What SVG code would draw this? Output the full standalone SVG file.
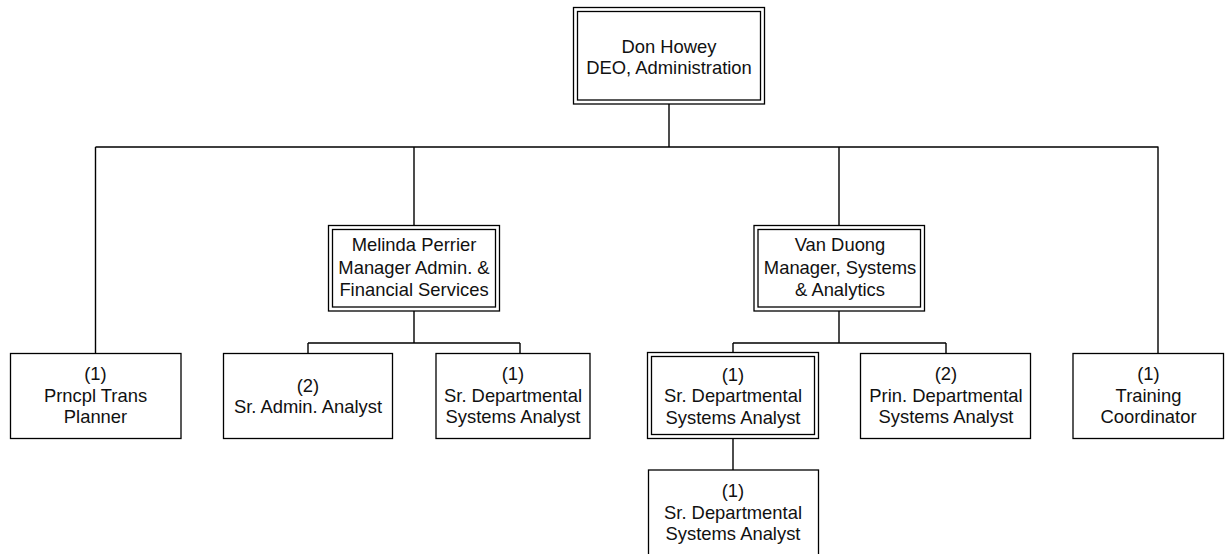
<svg xmlns="http://www.w3.org/2000/svg" width="1225" height="554" viewBox="0 0 1225 554">
<style>
.b{fill:#fff;stroke:#000;stroke-width:1.3}
.c{fill:none;stroke:#000;stroke-width:1.4}
text{font-family:"Liberation Sans",Arial,sans-serif;font-size:18.4px;fill:#111;text-anchor:middle}
</style>
<rect width="1225" height="554" fill="#fff"/>
<g id="connectors">
<path class="c" d="M669,104 V147 M95.5,147 H1158.5 M95.5,147 V353.5 M414,147 V225.5 M839,147 V225.5 M1158,147 V353.5"/>
<path class="c" d="M414,311 V343 M308,343 H520 M308,343 V353.5 M520,343 V353.5"/>
<path class="c" d="M839,311 V343 M733,343 H946 M733,343 V352.5 M946,343 V353.5"/>
<path class="c" d="M733,438.5 V470"/>
</g>
<g id="don-howey">
<rect class="b" x="573.5" y="7.5" width="191" height="96.5"/>
<rect class="b" x="577.5" y="11.5" width="183" height="88.5"/>
<text x="669" y="53">Don Howey</text>
<text x="669" y="74">DEO, Administration</text>
</g>
<g id="melinda-perrier">
<rect class="b" x="328.5" y="225.5" width="171" height="85.5"/>
<rect class="b" x="332.5" y="229.5" width="163" height="77.5"/>
<text x="414" y="251">Melinda Perrier</text>
<text x="414" y="273.5">Manager Admin. &amp;</text>
<text x="414" y="296">Financial Services</text>
</g>
<g id="van-duong">
<rect class="b" x="754" y="225.5" width="170.5" height="85.5"/>
<rect class="b" x="758" y="229.5" width="162.5" height="77.5"/>
<text x="840" y="251">Van Duong</text>
<text x="840" y="273.5">Manager, Systems</text>
<text x="840" y="296">&amp; Analytics</text>
</g>
<g id="prncpl-trans-planner">
<rect class="b" x="10.5" y="353.5" width="170.5" height="85"/>
<text x="95.5" y="380">(1)</text>
<text x="95.5" y="401.5">Prncpl Trans</text>
<text x="95.5" y="423">Planner</text>
</g>
<g id="sr-admin-analyst">
<rect class="b" x="223.5" y="353.5" width="169" height="85"/>
<text x="308" y="391.5">(2)</text>
<text x="308" y="412.5">Sr. Admin. Analyst</text>
</g>
<g id="sr-dept-analyst-a">
<rect class="b" x="436" y="353.5" width="154" height="85"/>
<text x="513" y="380">(1)</text>
<text x="513" y="401.5">Sr. Departmental</text>
<text x="513" y="423">Systems Analyst</text>
</g>
<g id="sr-dept-analyst-b">
<rect class="b" x="647.5" y="352.5" width="171" height="86"/>
<rect class="b" x="651.5" y="356.5" width="163" height="78"/>
<text x="733" y="380.5">(1)</text>
<text x="733" y="402">Sr. Departmental</text>
<text x="733" y="423.5">Systems Analyst</text>
</g>
<g id="prin-dept-analyst">
<rect class="b" x="860.5" y="353.5" width="170" height="85"/>
<text x="946" y="380">(2)</text>
<text x="946" y="401.5">Prin. Departmental</text>
<text x="946" y="423">Systems Analyst</text>
</g>
<g id="training-coordinator">
<rect class="b" x="1073" y="353.5" width="150.5" height="85"/>
<text x="1148.5" y="380">(1)</text>
<text x="1148.5" y="401.5">Training</text>
<text x="1148.5" y="423">Coordinator</text>
</g>
<g id="sr-dept-analyst-c">
<rect class="b" x="648.5" y="470" width="170" height="90"/>
<text x="733" y="497">(1)</text>
<text x="733" y="518.5">Sr. Departmental</text>
<text x="733" y="540">Systems Analyst</text>
</g>
</svg>
